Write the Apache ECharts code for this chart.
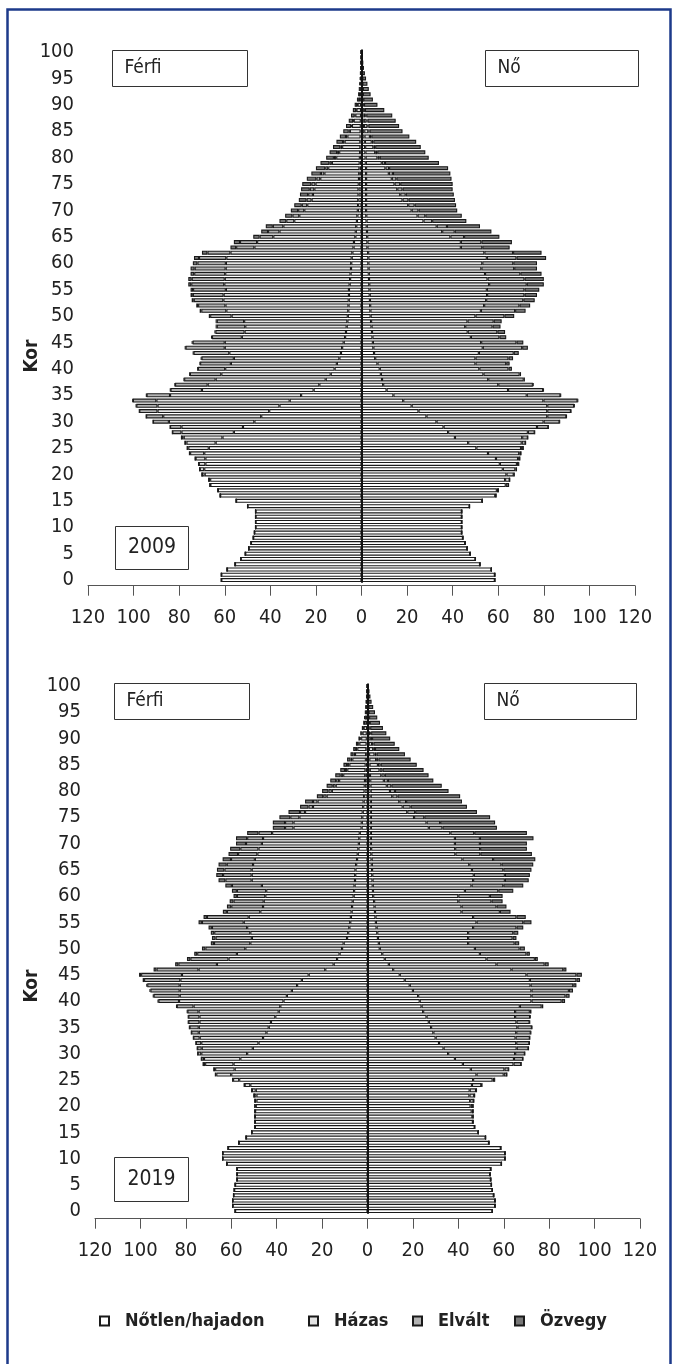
<!DOCTYPE html>
<html>
<head>
<meta charset="utf-8">
<script src="https://cdn.jsdelivr.net/npm/echarts@6/dist/echarts.min.js"></script>
<style>
  html, body { margin: 0; padding: 0; background: #fff; }
  #chart { width: 673px; height: 1364px; }
</style>
</head>
<body>
<div id="chart"></div>
<script>
    // Családi állapot szerinti korfa, 2009 és 2019 (ezer fő)
    var FONT = "'DejaVu Sans Condensed', Roboto, sans-serif";

    var ages = [];
    for (var a = 0; a <= 100; a++) ages.push(String(a));

    var categories = ['Nőtlen/hajadon', 'Házas', 'Elvált', 'Özvegy'];
    var catColors = ['#ffffff', '#e3e3e3', '#b3b3b3', '#787878'];

    // ---- 2009, férfi (kor 0..100) ----
    var m2009Single = [61.5, 61.5, 59, 55.5, 53, 51, 49.5, 48.5, 47.5, 47,
        46.5, 46.5, 46.5, 46.5, 50, 55, 62, 63, 66.3, 66.4,
        68.8, 69, 68.5, 68.5, 69, 67, 64, 61, 56, 52,
        47, 44, 40.5, 36, 31.5, 26.5, 21, 18.5, 15.7, 13.5,
        11.8, 10.8, 9.7, 9, 8.5, 7.8, 7.2, 6.8, 6.5, 6.2,
        6, 5.8, 5.7, 5.6, 5.5, 5.5, 5.2, 5, 4.8, 4.6,
        4.5, 4.3, 4, 3.5, 3.3, 2.7, 2.5, 2.3, 2, 1.8,
        1.6, 1.5, 1.4, 1.3, 1.3, 1.2, 1.1, 1, 0.9, 0.8,
        0.7, 0.6, 0.5, 0.5, 0.4, 0.4, 0.3, 0.3, 0.2, 0.2,
        0.2, 0.1, 0.1, 0.1, 0.1, 0.05, 0.05, 0.05, 0.05, 0.05,
        0.05];
    var m2009Married = [0, 0, 0, 0, 0, 0, 0, 0, 0, 0,
        0, 0, 0, 0, 0, 0, 0, 0, 0.2, 0.6,
        1.2, 2, 2.9, 4.3, 6.2, 9, 12.8, 17, 23, 27,
        37.5, 43, 49, 53.5, 58.5, 57.5, 49, 49, 48.3, 48,
        48, 46.5, 46.3, 49, 51.5, 52.2, 45.3, 44.5, 44.5, 45.3,
        51, 53.5, 54, 55, 55, 54, 55, 55, 55, 55,
        55, 55, 53.5, 43.5, 42.5, 36, 33.5, 32, 27.5, 25.5,
        23.5, 22.3, 20.5, 20, 19.4, 19, 17, 15.3, 13.7, 12.2,
        10.4, 9.2, 8, 6.9, 5.8, 4.7, 3.9, 3.1, 2.5, 2,
        1.5, 1, 0.7, 0.5, 0.4, 0.3, 0.25, 0.2, 0.15, 0.1,
        0.1];
    var m2009Divorced = [0, 0, 0, 0, 0, 0, 0, 0, 0, 0,
        0, 0, 0, 0, 0, 0, 0, 0, 0, 0,
        0, 0, 0.1, 0.2, 0.3, 0.5, 0.7, 1, 4, 5,
        7, 7.5, 8, 9.3, 10.3, 10.3, 13.8, 14.3, 13.8, 13.8,
        12, 13.5, 14.2, 15.7, 17.2, 14.1, 13.1, 12.8, 12.5, 12,
        9.4, 11, 12, 13, 13.5, 14.4, 14.5, 14.5, 13.6, 13.6,
        12.5, 12, 10.1, 8, 7.5, 6, 5, 4.6, 3.5, 3,
        2.7, 2.4, 2.2, 2.1, 2, 1.8, 1.7, 1.5, 1.3, 1.1,
        1, 0.9, 0.8, 0.7, 0.6, 0.5, 0.4, 0.3, 0.3, 0.2,
        0.2, 0.1, 0.1, 0.1, 0.1, 0.05, 0.05, 0.05, 0.05, 0.05,
        0.05];
    var m2009Widowed = [0, 0, 0, 0, 0, 0, 0, 0, 0, 0,
        0, 0, 0, 0, 0, 0, 0, 0, 0, 0,
        0, 0, 0, 0, 0, 0, 0, 0, 0, 0,
        0, 0, 0, 0.2, 0.2, 0.2, 0.2, 0.2, 0.2, 0.2,
        0.2, 0.2, 0.3, 0.3, 0.3, 0.4, 0.4, 0.4, 0.5, 0.5,
        0.6, 0.7, 0.8, 0.9, 1, 1.1, 1.3, 1.5, 1.6, 1.8,
        2, 2.2, 2.4, 2.5, 2.7, 2.8, 3, 3.1, 3, 3.2,
        3.2, 3.3, 3.4, 3.6, 3.8, 4, 4.2, 4.2, 4.1, 3.9,
        3.4, 3.3, 3.2, 2.9, 2.7, 2.4, 2.2, 1.9, 1.6, 1.4,
        1.1, 0.8, 0.6, 0.5, 0.4, 0.4, 0.25, 0.2, 0.15, 0.1,
        0.1];

    // ---- 2009, nő ----
    var f2009Single = [58.5, 58.5, 57, 52, 50, 47.7, 46.4, 45.5, 44.5, 44,
        44, 44, 44, 44, 47.4, 53, 58.7, 59.4, 63.3, 63,
        63.6, 62, 60.7, 59, 55.5, 50.4, 46.8, 41, 38, 36,
        32.9, 28.5, 25, 22, 18.3, 14, 11, 9.5, 9, 8.5,
        8, 7, 6, 5.5, 5.2, 5, 4.8, 4.6, 4.4, 4.2,
        4, 3.9, 3.8, 3.7, 3.6, 3.5, 3.4, 3.3, 3.2, 3.1,
        3, 3, 2.9, 2.6, 2.6, 2.5, 2.4, 2.3, 2.2, 2.1,
        2, 2, 2, 2, 2, 2, 2, 2, 2, 1.9,
        1.8, 1.7, 1.6, 1.5, 1.3, 1.2, 1.1, 1, 0.9, 0.7,
        0.5, 0.4, 0.3, 0.3, 0.2, 0.2, 0.1, 0.1, 0.1, 0.05,
        0.05];
    var f2009Married = [0, 0, 0, 0, 0, 0, 0, 0, 0, 0,
        0, 0, 0, 0, 0, 0, 0.3, 0.6, 1.2, 2,
        3.2, 5.5, 7.5, 9.7, 13.7, 19.6, 23.5, 29.5, 35, 41,
        47, 53, 56.5, 59.5, 61.5, 58.5, 53.3, 50.5, 46.6, 45,
        43.7, 43, 44, 46, 48, 47.5, 43.2, 42, 41.1, 42.3,
        46, 48.5, 50, 51, 51.5, 51.5, 52.6, 52, 51, 49.5,
        50, 52, 51, 41, 41, 36.5, 33, 30.7, 25, 22.5,
        20, 18.5, 16, 15, 13.7, 12.5, 11.3, 10, 8.5, 7,
        5.2, 4.3, 3.6, 3, 2.4, 1.8, 1.5, 1.2, 0.9, 0.6,
        0.4, 0.3, 0.2, 0.2, 0.1, 0.1, 0.1, 0.05, 0.05, 0.05,
        0.05];
    var f2009Divorced = [0, 0, 0, 0, 0, 0, 0, 0, 0, 0,
        0, 0, 0, 0, 0, 0, 0, 0, 0, 0,
        0.2, 0.5, 0.8, 0.8, 0.8, 1, 1.7, 2.5, 3, 5,
        7, 8.4, 10.4, 11.8, 15, 14.8, 15.4, 15.2, 15.6, 15.9,
        12.8, 13.5, 14.5, 15.3, 17.3, 15.5, 12.5, 13, 12, 11.5,
        12.7, 15, 15.5, 16.3, 16.4, 16.5, 16.5, 16.2, 15.5, 14.4,
        13.6, 13, 12.6, 9.4, 9, 6, 5.5, 4.5, 3.8, 3.4,
        3, 2.8, 2.6, 2.4, 2.3, 2.5, 2, 1.8, 1.6, 1.4,
        1, 0.9, 0.8, 0.7, 0.6, 0.5, 0.4, 0.4, 0.3, 0.2,
        0.2, 0.1, 0.1, 0.1, 0.1, 0.05, 0.05, 0.05, 0.05, 0.05,
        0.05];
    var f2009Widowed = [0, 0, 0, 0, 0, 0, 0, 0, 0, 0,
        0, 0, 0, 0, 0, 0, 0, 0, 0, 0,
        0, 0, 0, 0, 0, 0, 0, 0, 0, 0,
        0.1, 0.1, 0.1, 0.2, 0.2, 0.2, 0.3, 0.3, 0.5, 0.6,
        1.5, 1.5, 2, 2.2, 2.5, 3, 3, 3.4, 3.5, 3.5,
        4.3, 4.6, 4.7, 5, 5.5, 6.5, 7.5, 8.5, 9.3, 10,
        10.4, 13, 12.5, 12, 13.4, 15.5, 16.1, 14.5, 15, 16,
        17, 18.2, 20.4, 21.1, 22, 23, 24.2, 25.2, 25.9, 23.7,
        21.5, 21.1, 20, 18.8, 16.7, 14.5, 13.5, 12.4, 11.4, 8.5,
        5.9, 4.2, 3.4, 2.6, 2.2, 1.65, 1.25, 0.9, 0.6, 0.45,
        0.35];

    // ---- 2019, férfi ----
    var m2019Single = [58.3, 59.4, 59.4, 59, 58.7, 58.3, 57.5, 57.5, 57.5, 62,
        63.8, 63.8, 61.4, 56.7, 53.5, 51, 49.6, 49.6, 49.6, 49.5,
        49.2, 48.9, 48.9, 49.2, 51.6, 56.5, 60, 58.5, 59, 56,
        53, 50.5, 48, 46, 44.5, 43.5, 42.5, 40.6, 39.1, 38.4,
        37, 35.5, 33.3, 31, 28.9, 25.9, 18.6, 14.9, 13.4, 12.3,
        11.2, 10.5, 9, 8.5, 8, 7.6, 7.3, 7, 6.8, 6.5,
        6.1, 5.9, 5.7, 5.5, 5.4, 5.3, 5, 4.6, 4.3, 4,
        3.8, 3.6, 3.4, 2.6, 2.5, 2.3, 2.1, 1.9, 1.7, 1.5,
        1.3, 1.2, 1.1, 1, 0.9, 0.8, 0.7, 0.6, 0.5, 0.4,
        0.3, 0.3, 0.2, 0.2, 0.1, 0.1, 0.1, 0.05, 0.05, 0.05,
        0.05];
    var m2019Married = [0, 0, 0, 0, 0, 0, 0, 0, 0, 0,
        0, 0, 0, 0, 0, 0, 0, 0, 0, 0.1,
        0.4, 0.7, 1.1, 1.7, 2.5, 2.7, 6.6, 8.6, 12.5, 16,
        20.2, 22.5, 25.2, 27.9, 29.8, 30.8, 31.5, 33.4, 35.3, 38.2,
        46, 47.2, 49.4, 51.7, 53.5, 55.8, 55.8, 51.4, 47.8, 45.2,
        42.6, 41.1, 41.9, 43.1, 45, 46.9, 45, 40.2, 39.2, 39.2,
        38.9, 38.7, 40.8, 45.5, 45.6, 45.7, 45.4, 45, 44.2, 44,
        42.7, 42.4, 38.6, 30, 30.1, 27.7, 25.4, 22.1, 20.3, 16.5,
        14.4, 12.8, 11.4, 9.7, 8, 7.2, 6, 4.9, 4, 3.2,
        2.5, 1.9, 1.5, 1.1, 0.9, 0.6, 0.5, 0.4, 0.25, 0.2,
        0.1];
    var m2019Divorced = [0, 0, 0, 0, 0, 0, 0, 0, 0, 0,
        0, 0, 0, 0, 0, 0, 0, 0, 0, 0,
        0, 0, 0, 0.1, 0.2, 0.2, 0.4, 0.6, 0.9, 1.2,
        1.6, 2, 2.4, 2.8, 3.3, 4.1, 4.9, 4.9, 4.9, 7.4,
        9.1, 11.5, 12.9, 14.3, 16, 18, 18.5, 17, 16.8, 17.5,
        17.6, 16, 16, 15.9, 15.5, 18.4, 18.4, 14.7, 14, 13.3,
        12.5, 12.9, 13.2, 11.6, 12.6, 12, 11.6, 10.5, 8.5, 8,
        7, 7, 6, 3.7, 3.7, 4, 2.2, 2, 2, 1.5,
        1.5, 1.3, 1.3, 1.1, 1, 1, 0.8, 0.7, 0.6, 0.5,
        0.4, 0.3, 0.2, 0.1, 0.1, 0.1, 0.05, 0.05, 0.05, 0.05,
        0.05];
    var m2019Widowed = [0, 0, 0, 0, 0, 0, 0, 0, 0, 0,
        0, 0, 0, 0, 0, 0, 0, 0, 0, 0,
        0, 0, 0, 0, 0, 0, 0, 0, 0, 0,
        0, 0, 0, 0, 0, 0.1, 0.1, 0.1, 0.2, 0.2,
        0.3, 0.3, 0.4, 0.4, 0.6, 0.9, 1.3, 1.4, 1.5, 1.3,
        1.5, 1.4, 1.6, 1.5, 1.5, 1.5, 1.5, 1.8, 1.9, 1.7,
        1.5, 2.2, 2.9, 3, 3, 3.3, 3.6, 3.7, 4.2, 4.5,
        4.4, 4.9, 5, 5.4, 5.4, 4.8, 5.1, 3.7, 3.5, 2.8,
        2.8, 2.7, 2.6, 2.4, 2.1, 1.6, 1.5, 1.3, 1.2, 1,
        0.8, 0.7, 0.6, 0.5, 0.4, 0.3, 0.25, 0.2, 0.15, 0.1,
        0.1];

    // ---- 2019, nő ----
    var f2019Single = [55, 56.2, 56.2, 55.6, 55, 54.6, 54.3, 54, 54.3, 59,
        60.6, 60.6, 58.7, 53.5, 52, 48.8, 47.2, 46.4, 46.2, 45.9,
        45.4, 45.2, 44.9, 45, 46, 46.5, 48, 45.5, 42, 38.5,
        35.5, 33.5, 31.5, 30, 29, 28, 27, 26, 24.5, 23.8,
        23, 22.3, 20, 18.6, 16.4, 14.2, 11.3, 9.4, 7.6, 6.5,
        5.4, 5, 4.6, 4.3, 4, 3.7, 3.5, 3.3, 3.1, 2.9,
        2.5, 2.4, 2.3, 2.2, 2.1, 2, 1.9, 1.8, 1.7, 1.6,
        1.5, 1.5, 1.5, 1.5, 1.5, 1.5, 1.5, 1.5, 1.5, 1.4,
        1.4, 1.3, 1.2, 1.1, 1, 0.9, 0.8, 0.7, 0.6, 0.5,
        0.4, 0.4, 0.3, 0.3, 0.2, 0.2, 0.1, 0.1, 0.1, 0.05,
        0.05];
    var f2019Married = [0, 0, 0, 0, 0, 0, 0, 0, 0, 0,
        0, 0, 0, 0, 0, 0, 0, 0.1, 0.3, 0.6,
        1, 1.5, 2.1, 2.8, 4.1, 8.6, 12, 14.8, 22.3, 26,
        29.5, 32.2, 34, 35.2, 36.5, 38, 38.6, 39, 40.5, 43.3,
        49.2, 49.9, 52.2, 53.2, 55.1, 55.8, 52.1, 47.4, 44.8, 43,
        41.9, 39.3, 39.7, 40, 42.5, 44.3, 43, 38.1, 38.3, 37.1,
        37.5, 40.5, 43.5, 44.3, 44.7, 44, 42.9, 40, 37, 37,
        37, 37, 35, 25.5, 24.5, 19, 16, 14, 12.5, 9.5,
        8.5, 7.2, 6, 5, 4.3, 3.7, 3, 2.4, 1.9, 1.5,
        1.1, 0.8, 0.6, 0.5, 0.3, 0.2, 0.2, 0.1, 0.1, 0.05,
        0.05];
    var f2019Divorced = [0, 0, 0, 0, 0, 0, 0, 0, 0, 0,
        0, 0, 0, 0, 0, 0, 0, 0, 0, 0,
        0.1, 0.1, 0.2, 0.2, 0.3, 0.9, 1.4, 1.9, 3.4, 4,
        4.3, 5.2, 5.8, 6.3, 6.4, 6.4, 5.8, 6.6, 6.5, 9.6,
        13.3, 15, 16.5, 18.8, 20.5, 22, 22.8, 21.2, 21.3, 20.5,
        19.7, 20.5, 19.6, 19.9, 19.1, 20.6, 19.1, 16.9, 15.4, 14.6,
        13.9, 14.7, 14, 14, 13.7, 13.8, 14.2, 13.5, 11, 11,
        11, 11, 10.5, 6, 6, 4.5, 3.5, 3.5, 3, 2.3,
        2.2, 2, 1.8, 1.5, 1.3, 1.2, 1, 0.9, 0.8, 0.6,
        0.5, 0.4, 0.3, 0.2, 0.2, 0.1, 0.1, 0.1, 0.05, 0.05,
        0.05];
    var f2019Widowed = [0, 0, 0, 0, 0, 0, 0, 0, 0, 0,
        0, 0, 0, 0, 0, 0, 0, 0, 0, 0,
        0, 0, 0, 0, 0, 0, 0, 0, 0, 0,
        0, 0, 0, 0, 0.1, 0.1, 0.1, 0.2, 0.7, 0.7,
        1.5, 1.8, 1.8, 1.4, 1.6, 2.4, 1.4, 1.8, 1.3, 1.5,
        2.3, 2, 1.7, 2.2, 3, 3.6, 4.1, 4.7, 4.4, 4.9,
        5.6, 6.6, 8.8, 10.5, 11, 12.4, 14, 18.6, 22.7, 20.6,
        20.7, 23.6, 23.2, 24, 24.2, 29, 27.2, 24.8, 24.6, 27.6,
        23.6, 22.2, 20, 19.3, 18.1, 15.9, 14.2, 12.5, 10.7, 9.4,
        8, 6.7, 5.6, 4.5, 3.6, 2.8, 2.1, 1.5, 1.05, 0.75,
        0.45];

    var years = ['2009', '2019'];
    var panels = [
        { male: [m2009Single, m2009Married, m2009Divorced, m2009Widowed],
          female: [f2009Single, f2009Married, f2009Divorced, f2009Widowed] },
        { male: [m2019Single, m2019Married, m2019Divorced, m2019Widowed],
          female: [f2019Single, f2019Married, f2019Divorced, f2019Widowed] }
    ];

    var chart = echarts.init(document.getElementById('chart'), null, { renderer: 'canvas' });

    var grids = [
        { left: 88, top: 49.4, width: 547, height: 533.3 },
        { left: 95, top: 683.4, width: 545, height: 530.3 }
    ];
    var axisOffset = [3, 5];

    var xAxes = [], yAxes = [], series = [];
    grids.forEach(function (g, gi) {
        xAxes.push({
            gridIndex: gi, type: 'value', min: -120, max: 120, interval: 20,
            offset: axisOffset[gi],
            axisLine: { show: true, lineStyle: { color: '#555', width: 1 } },
            axisTick: { show: true, length: 10, lineStyle: { color: '#555' } },
            axisLabel: {
                formatter: function (v) { return Math.abs(v); },
                fontSize: 20, color: '#222', margin: 22, fontFamily: FONT
            },
            splitLine: { show: false }
        });
        yAxes.push({
            gridIndex: gi, type: 'category', data: ages,
            axisLine: { show: false, onZero: false },
            axisTick: { show: false },
            axisLabel: { interval: 4, fontSize: 20, color: '#222', margin: 14, fontFamily: FONT },
            splitLine: { show: false }
        });

        ['male', 'female'].forEach(function (sex) {
            var sign = sex === 'male' ? -1 : 1;
            panels[gi][sex].forEach(function (vals, k) {
                var s = {
                    name: categories[k],
                    type: 'bar',
                    xAxisIndex: gi,
                    yAxisIndex: gi,
                    stack: 'pyr' + gi,
                    barCategoryGap: '24%',
                    silent: true,
                    emphasis: { disabled: true },
                    itemStyle: { color: catColors[k], borderColor: '#1a1a1a', borderWidth: 1.1 },
                    data: vals.map(function (v) { return sign * v; })
                };
                if (sex === 'male' && k === 0) {
                    s.markLine = {
                        silent: true, symbol: 'none', animation: false,
                        label: { show: false },
                        lineStyle: { color: '#111', width: 2, type: 'solid' },
                        data: [{ xAxis: 0 }]
                    };
                }
                series.push(s);
            });
        });
    });

    // külön jelmagyarázat elemek, hogy pontosan a helyükre kerüljenek
    var legendX = [94, 303, 407, 509];
    var legends = categories.map(function (c, i) {
        return {
            data: [c], left: legendX[i], top: 1307,
            icon: 'rect', itemWidth: 9, itemHeight: 9, selectedMode: false,
            textStyle: { fontSize: 18, fontWeight: 'bold', color: '#222', fontFamily: FONT, padding: [0, 0, 0, 11] }
        };
    });

    function box(x, y, w, h, label, center, size, weight) {
        return {
            type: 'group', silent: true,
            children: [
                { type: 'rect', shape: { x: x, y: y, width: w, height: h },
                  style: { fill: '#fff', stroke: '#333', lineWidth: 1 } },
                { type: 'text', x: center ? x + w / 2 : x + 12, y: y + h / 2,
                  style: { text: label, fill: '#222', font: (weight || 'normal') + ' ' + size + 'px ' + FONT,
                           textAlign: center ? 'center' : 'left', textVerticalAlign: 'middle' } }
            ]
        };
    }

    var graphics = [
        { type: 'rect', silent: true, z: 100,
          shape: { x: 7.5, y: 9.5, width: 663, height: 1400 },
          style: { fill: 'none', stroke: '#1d3a8a', lineWidth: 2.5 } },
        box(112.5, 50.5, 135, 36, 'Férfi', false, 19, 'normal'),
        box(485.5, 50.5, 153, 36, 'Nő', false, 19, 'normal'),
        box(115.5, 526.5, 73, 43, years[0], true, 21),
        box(114.5, 683.5, 135, 36, 'Férfi', false, 19, 'normal'),
        box(484.5, 683.5, 152, 36, 'Nő', false, 19, 'normal'),
        box(114.5, 1157.5, 74, 44, years[1], true, 21),
        { type: 'text', x: 32, y: 356, rotation: Math.PI / 2, silent: true,
          style: { text: 'Kor', fill: '#222', font: 'bold 19px ' + FONT, textAlign: 'center', textVerticalAlign: 'middle' } },
        { type: 'text', x: 32, y: 986, rotation: Math.PI / 2, silent: true,
          style: { text: 'Kor', fill: '#222', font: 'bold 19px ' + FONT, textAlign: 'center', textVerticalAlign: 'middle' } }
    ];

    chart.setOption({
        backgroundColor: '#fff',
        animation: false,
        grid: grids,
        xAxis: xAxes,
        yAxis: yAxes,
        legend: legends,
        series: series,
        graphic: graphics
    });

    window.addEventListener('resize', function () { chart.resize(); });
</script>
</body>
</html>
